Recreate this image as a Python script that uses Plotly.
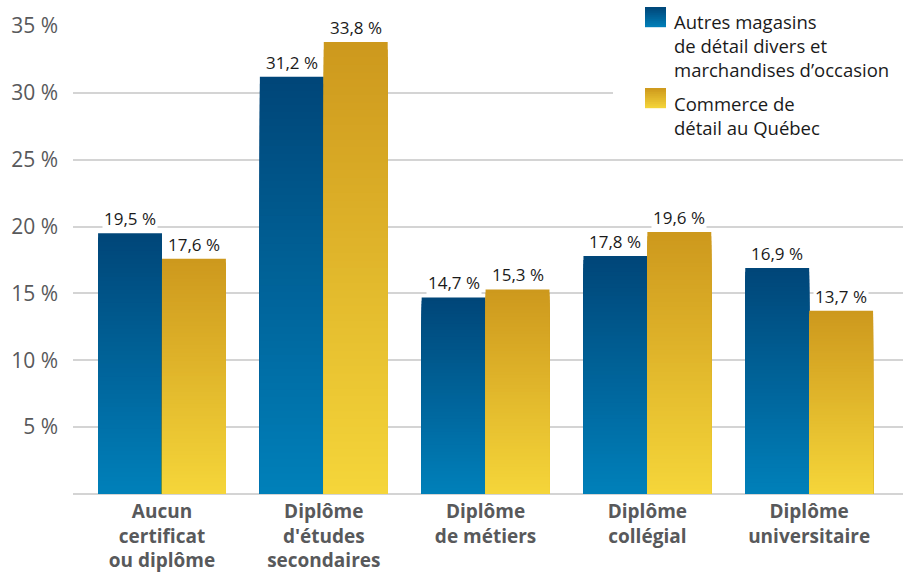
import plotly.graph_objects as go

# ---- data ----
categories = [
    "Aucun<br>certificat<br>ou diplôme",
    "Diplôme<br>d'études<br>secondaires",
    "Diplôme<br>de métiers",
    "Diplôme<br>collégial",
    "Diplôme<br>universitaire",
]
series_names = [
    "Autres magasins<br>de détail divers et<br>marchandises d’occasion",
    "Commerce de<br>détail au Québec",
]
autres = [19.5, 31.2, 14.7, 17.8, 16.9]
quebec = [17.6, 33.8, 15.3, 19.6, 13.7]
y_tickvals = [5, 10, 15, 20, 25, 30, 35]
y_ticktext = ["5 %", "10 %", "15 %", "20 %", "25 %", "30 %", "35 %"]

# ---- style ----
W, H = 903, 573
ML, MR, MT, MB = 73, 0, 26, 79
FONT = "Open Sans"
grad = [((0, 128, 186), (0, 70, 120)),       # blue: bottom, top
        ((245, 214, 58), (205, 152, 29))]    # gold: bottom, top
NSEG = 60
BARGAP = 0.21


def mix(c0, c1, t):
    return "rgb(%d,%d,%d)" % tuple(round(a + (b - a) * t) for a, b in zip(c0, c1))


fig = go.Figure()
all_series = [autres, quebec]
# gradient: overlapping bars, each shorter one drawn on top of the taller one
for s, vals in enumerate(all_series):
    for k in range(NSEG):
        f = (NSEG - k) / NSEG
        col = mix(grad[s][0], grad[s][1], f - 0.5 / NSEG)
        fig.add_trace(go.Bar(
            x=categories,
            y=[v * f for v in vals],
            offsetgroup=str(s),
            marker=dict(color=col, line=dict(width=0)),
            showlegend=False,
            hoverinfo="skip",
        ))

# value labels
bw = (1 - BARGAP) / 2
annotations = []
for s, vals in enumerate(all_series):
    off = -bw / 2 if s == 0 else bw / 2
    for i, v in enumerate(vals):
        annotations.append(dict(
            x=i + off, y=v, xref="x", yref="y",
            text=("%.1f" % v).replace(".", ",") + " %",
            showarrow=False, yanchor="bottom", yshift=1,
            bgcolor="white", borderpad=1,
            font=dict(family=FONT, size=17, color="#1a1a1a"),
        ))


def px(xp):
    return (xp - ML) / (W - ML - MR)


def py(yp):
    return (H - MB - yp) / (H - MB - MT)


shapes = [dict(type="rect", xref="paper", yref="paper", layer="above",
               x0=px(613), x1=1.0, y0=py(130), y1=py(0),
               fillcolor="white", line=dict(width=0))]
# custom legend with gradient squares
leg_tops = [7, 88]
text_tops = [7, 89]
for s in range(2):
    top = leg_tops[s]
    nstrip = 10
    for j in range(nstrip):
        y0p = top + 20 - (j + 1) * 2
        col = mix(grad[s][0], grad[s][1], (j + 0.5) / nstrip)
        shapes.append(dict(type="rect", xref="paper", yref="paper", layer="above",
                           x0=px(645), x1=px(666), y0=py(y0p + 2.2), y1=py(y0p),
                           fillcolor=col, line=dict(width=0)))
    annotations.append(dict(
        x=px(672), y=py(text_tops[s]), xref="paper", yref="paper",
        xanchor="left", yanchor="top", align="left", showarrow=False,
        text=series_names[s],
        font=dict(family=FONT, size=18.5, color="#1a1a1a"),
    ))

fig.update_layout(
    width=W, height=H,
    margin=dict(l=ML, r=MR, t=MT, b=MB),
    barmode="group", bargap=BARGAP, bargroupgap=0,
    plot_bgcolor="white", paper_bgcolor="white",
    font=dict(family=FONT),
    annotations=annotations,
    shapes=shapes,
    xaxis=dict(
        range=[-0.55, 4.58],
        tickfont=dict(family=FONT, size=19, color="#58595b", weight="bold"),
        showgrid=False, showline=False, ticks="",
        ticklabelstandoff=4,
    ),
    yaxis=dict(
        range=[0, 35],
        tickvals=y_tickvals, ticktext=y_ticktext,
        tickfont=dict(family=FONT, size=21, color="#58595b"),
        showgrid=True, gridcolor="#d4d4d4", gridwidth=2,
        zeroline=True, zerolinecolor="#d4d4d4", zerolinewidth=2,
        showline=False, ticks="", ticklabelstandoff=14,
    ),
)

fig.write_html("out.html", config={"displayModeBar": False},
               post_script="document.body.style.margin='0';")
